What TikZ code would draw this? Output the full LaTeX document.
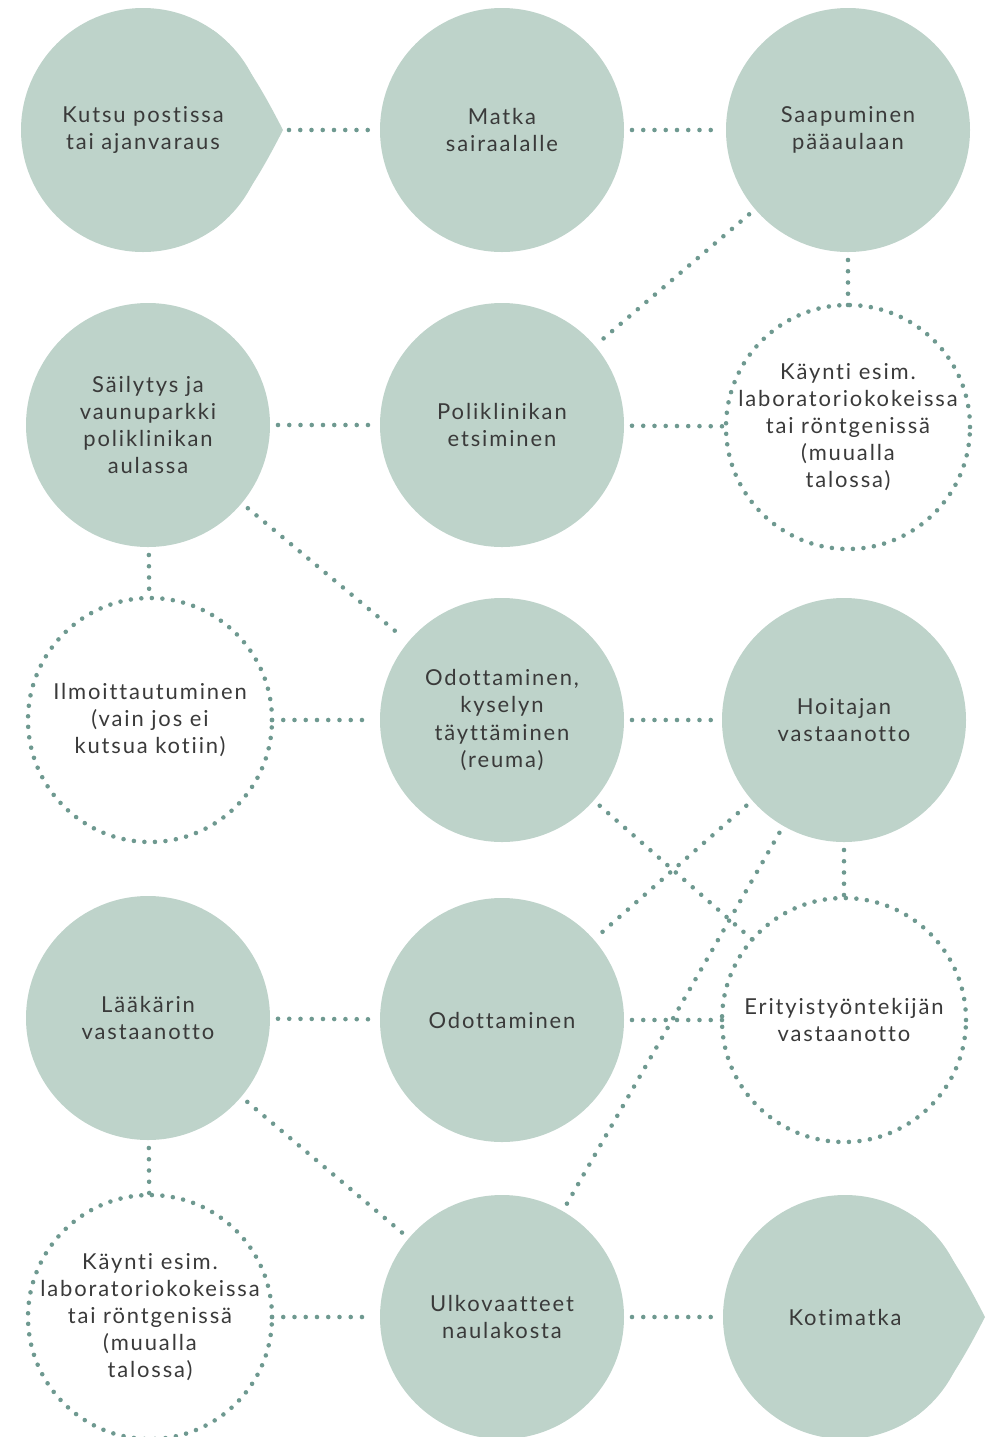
\documentclass[tikz,border=0pt]{standalone}
\usepackage{fontspec}
\setmainfont[LetterSpace=8.5, Ligatures={NoCommon}]{Lato}
\usetikzlibrary{calc}
\definecolor{sage}{RGB}{190,211,202}
\definecolor{dotgreen}{RGB}{110,153,144}
\definecolor{ink}{RGB}{58,58,58}
\tikzset{
  stage/.style={circle, fill=sage, minimum size=4.88cm, inner sep=0pt, outer sep=0.16cm,
    align=center, text=ink, font=\fontsize{12.5}{15.4}\selectfont},
  visit/.style={stage, fill=none, inner sep=-0.5cm, outer sep=0pt, draw=dotgreen, line width=2.6pt,
    line cap=round, dash pattern=on 0pt off 6pt},
  link/.style={draw=dotgreen, line width=2.6pt, line cap=round, dash pattern=on 0pt off 6.4pt},
}
\def\droptip(#1){\fill[sage] ($(#1.center)+(55:2.44)$) .. controls ($(#1.center)+(1.97,1.6)$) and ($(#1.center)+(2.5,0.58)$) .. ($(#1.center)+(2.8,0)$) .. controls ($(#1.center)+(2.5,-0.58)$) and ($(#1.center)+(1.97,-1.6)$) .. ($(#1.center)+(-55:2.44)$) -- ($(#1.center)+(-55:2.2)$) arc[start angle=-55, end angle=55, radius=2.2] -- cycle;}

\begin{document}
\begin{tikzpicture}
	\useasboundingbox (0,0) rectangle (19.86,-28.74);
	
	%%%%% ROW 1 %%%%%
	\node[stage] (kutsu) at (2.86,-2.6) {Kutsu postissa\\tai ajanvaraus};
	\droptip(kutsu);
	\coordinate (kutsutip) at ($(kutsu.center)+(2.92,0)$);
	\node[stage] (matka) at (10.04,-2.6) {Matka\\sairaalalle};
	\node[stage] (saapuminen) at (16.96,-2.6) {Saapuminen\\pääaulaan};
	
	%%%%% ROW 2 %%%%%
	\node[stage] (sailytys) at (2.96,-8.5) {Säilytys ja\\vaunuparkki\\poliklinikan\\aulassa};
	\node[stage] (poliklinikka) at (10.04,-8.5) {Poliklinikan\\etsiminen};
	\node[visit] (kaynti) at (16.96,-8.54) {Käynti esim.\\laboratoriokokeissa\\tai röntgenissä\\(muualla\\talossa)};
	
	%%%%% ROW 3 %%%%%
	\node[visit] (ilmoitt) at (3.0,-14.4) {Ilmoittautuminen\\(vain jos ei\\kutsua kotiin)};
	\node[stage] (kysely) at (10.04,-14.4) {Odottaminen,\\kyselyn\\täyttäminen\\(reuma)};
	\node[stage] (hoitaja) at (16.88,-14.4) {Hoitajan\\vastaanotto};
	
	%%%%% ROW 4 %%%%%
	\node[stage] (laakari) at (2.96,-20.36) {Lääkärin\\vastaanotto};
	\node[stage] (odottaminen) at (10.04,-20.4) {Odottaminen};
	\node[visit] (erityis) at (16.88,-20.4) {Erityistyöntekijän\\vastaanotto};
	
	%%%%% ROW 5 %%%%%
	\node[visit] (kaynti2) at (3.0,-26.34) {Käynti esim.\\laboratoriokokeissa\\tai röntgenissä\\(muualla\\talossa)};
	\node[stage] (ulkovaatteet) at (10.04,-26.34) {Ulkovaatteet\\naulakosta};
	\node[stage] (kotimatka) at (16.9,-26.34) {Kotimatka};
	\droptip(kotimatka);
	
	%%%%% LINKS %%%%%
	\draw[link] (kutsutip) -- (matka);
	\draw[link] (matka) -- (saapuminen);
	\draw[link] (saapuminen) -- (kaynti);
	\draw[link] (saapuminen) -- (poliklinikka);
	\draw[link] (sailytys) -- (poliklinikka);
	\draw[link] (poliklinikka) -- (kaynti);
	\draw[link] (sailytys) -- (ilmoitt);
	\draw[link] (sailytys) -- (kysely);
	\draw[link] (ilmoitt) -- (kysely);
	\draw[link] (kysely) -- (hoitaja);
	\draw[link] (kysely) -- (erityis);
	\draw[link] (hoitaja) -- (erityis);
	\draw[link] (hoitaja) -- (odottaminen);
	\draw[link] (hoitaja) -- (ulkovaatteet);
	\draw[link] (laakari) -- (odottaminen);
	\draw[link] (odottaminen) -- (erityis);
	\draw[link] (laakari) -- (kaynti2);
	\draw[link] (laakari) -- (ulkovaatteet);
	\draw[link] (kaynti2) -- (ulkovaatteet);
	\draw[link] (ulkovaatteet) -- (kotimatka);
	
\end{tikzpicture}
\end{document}
